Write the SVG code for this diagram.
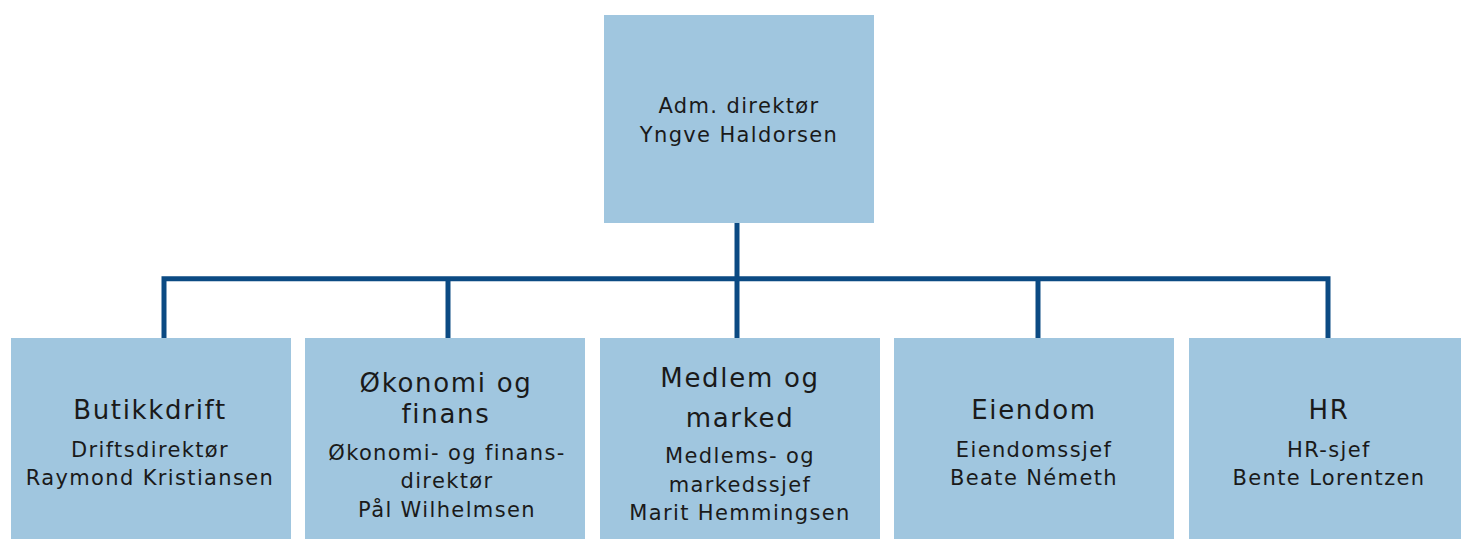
<svg xmlns="http://www.w3.org/2000/svg" width="1461" height="539" viewBox="0 0 1461 539">
<style>
.box{fill:#a0c6df;}
.line{fill:none;stroke:#0b4a83;stroke-width:5;stroke-linejoin:miter;}
text{font-family:"DejaVu Sans","Noto Sans",sans-serif;fill:#1a1a1a;text-anchor:middle;letter-spacing:0.065em;}
.t{font-size:26px;}
.s{font-size:21px;}
</style>
<rect width="1461" height="539" fill="#ffffff"/>
<g id="connectors">
<path class="line" d="M737,223 V338"/>
<path class="line" d="M164,338 V278.7 H1328 V338"/>
<path class="line" d="M448,278.7 V338"/>
<path class="line" d="M1038,278.7 V338"/>
</g>
<g id="node-adm">
<rect class="box" x="604" y="15" width="270" height="208"/>
<text class="s" x="739" y="113">Adm. direktør</text>
<text class="s" x="739" y="141.5">Yngve Haldorsen</text>
</g>
<g id="node-butikkdrift">
<rect class="box" x="11" y="338" width="280" height="201"/>
<text class="t" x="150" y="419">Butikkdrift</text>
<text class="s" x="150" y="456.7">Driftsdirektør</text>
<text class="s" x="150" y="485">Raymond Kristiansen</text>
</g>
<g id="node-okonomi">
<rect class="box" x="305" y="338" width="280" height="201"/>
<text class="t" x="446" y="391.7">Økonomi og</text>
<text class="t" x="446" y="422.7">finans</text>
<text class="s" x="447" y="460">Økonomi- og finans-</text>
<text class="s" x="447" y="488.3">direktør</text>
<text class="s" x="447" y="516.7">Pål Wilhelmsen</text>
</g>
<g id="node-medlem">
<rect class="box" x="600" y="338" width="280" height="201"/>
<text class="t" x="740" y="386.7">Medlem og</text>
<text class="t" x="740" y="426.7">marked</text>
<text class="s" x="740" y="462.7">Medlems- og</text>
<text class="s" x="740" y="491.7">markedssjef</text>
<text class="s" x="740" y="520">Marit Hemmingsen</text>
</g>
<g id="node-eiendom">
<rect class="box" x="894" y="338" width="280" height="201"/>
<text class="t" x="1034" y="419">Eiendom</text>
<text class="s" x="1034" y="456.7">Eiendomssjef</text>
<text class="s" x="1034" y="485">Beate Németh</text>
</g>
<g id="node-hr">
<rect class="box" x="1189" y="338" width="280" height="201"/>
<text class="t" x="1329" y="419">HR</text>
<text class="s" x="1329" y="456.7">HR-sjef</text>
<text class="s" x="1329" y="485">Bente Lorentzen</text>
</g>
</svg>
